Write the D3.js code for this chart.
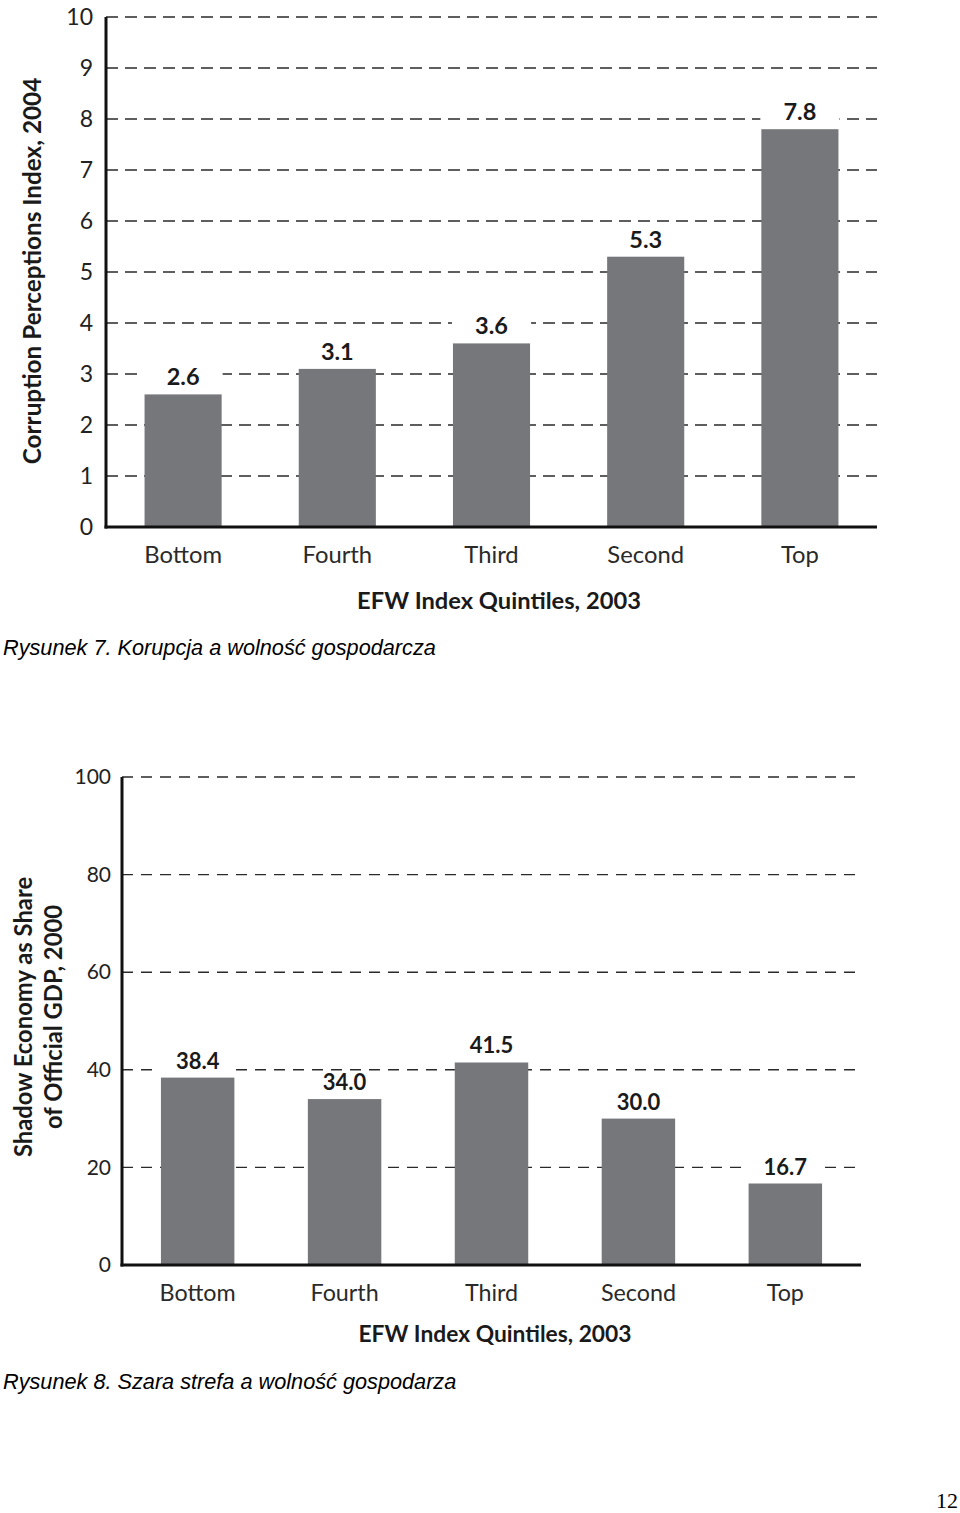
<!DOCTYPE html>
<html><head><meta charset="utf-8">
<script src="https://cdn.jsdelivr.net/npm/d3@7"></script>
<style>
body{margin:0;background:#fff;}
svg{display:block;}
</style></head>
<body>
<svg id="c" width="960" height="1513"></svg>
<script>
const categories = ["Bottom","Fourth","Third","Second","Top"];
const corruptionValues = [2.6, 3.1, 3.6, 5.3, 7.8];
const corruptionLabels = ["2.6","3.1","3.6","5.3","7.8"];
const corruptionTicks = [0,1,2,3,4,5,6,7,8,9,10];
const shadowValues = [38.4, 34.0, 41.5, 30.0, 16.7];
const shadowLabels = ["38.4","34.0","41.5","30.0","16.7"];
const shadowTicks = [0,20,40,60,80,100];
const xTitle = "EFW Index Quintiles, 2003";
const yTitle1 = ["Corruption Perceptions Index, 2004"];
const yTitle2 = ["Shadow Economy as Share","of Official GDP, 2000"];
const caption1 = "Rysunek 7. Korupcja a wolność gospodarcza";
const caption2 = "Rysunek 8. Szara strefa a wolność gospodarza";
const pageNum = "12";

const svg = d3.select("#c");
const FONT = "Lato, 'Open Sans', sans-serif";
const BAR = "#76777b";

function chart(cfg){
  const g = svg.append("g");
  const x = d3.scaleBand().domain(categories).range([cfg.x0, cfg.x1])
    .paddingInner(0.5).paddingOuter(cfg.po);
  const y = d3.scaleLinear().domain([0, cfg.max]).range([cfg.y0, cfg.yTop]);

  // dashed gridlines
  g.append("g").selectAll("line").data(cfg.ticks.filter(t=>t>0)).join("line")
    .attr("x1", cfg.x0).attr("x2", cfg.x1)
    .attr("y1", d=>y(d)).attr("y2", d=>y(d))
    .attr("stroke", "#2a2a2a").attr("stroke-width", 1.4)
    .attr("stroke-dasharray", cfg.dash);

  // y axis tick labels
  const ya = d3.axisLeft(y).tickValues(cfg.ticks).tickSize(0).tickPadding(cfg.tickPad).tickFormat(d3.format("d"));
  const yg = g.append("g").attr("transform", `translate(${cfg.x0},0)`).call(ya);
  yg.select(".domain").remove();
  yg.selectAll("text").attr("font-family", FONT).attr("font-size", cfg.tickFs).attr("fill","#222");

  // white knockouts behind value labels
  g.append("g").selectAll("rect").data(cfg.values).join("rect")
    .attr("x", (d,i)=>x(categories[i])-1).attr("width", x.bandwidth()+2)
    .attr("y", d=>y(d)-cfg.labelGap-18).attr("height", cfg.labelGap+18)
    .attr("fill","#fff");

  // bars
  g.append("g").selectAll("rect").data(cfg.values).join("rect")
    .attr("x", (d,i)=>x(categories[i])).attr("width", x.bandwidth())
    .attr("y", d=>y(d)).attr("height", d=>y(0)-y(d))
    .attr("fill", BAR);

  // value labels
  g.append("g").selectAll("text").data(cfg.values).join("text")
    .attr("x", (d,i)=>x(categories[i])+x.bandwidth()/2)
    .attr("y", d=>y(d)-cfg.labelGap)
    .attr("text-anchor","middle").attr("font-family",FONT).attr("font-weight",700)
    .attr("font-size", cfg.valFs).attr("fill","#1a1a1a")
    .text((d,i)=>cfg.labels[i]);

  // axes lines
  g.append("line").attr("x1",cfg.x0).attr("x2",cfg.x0).attr("y1",cfg.yTop).attr("y2",cfg.y0+1.5)
    .attr("stroke","#111").attr("stroke-width",3);
  g.append("line").attr("x1",cfg.x0-1.5).attr("x2",cfg.x1).attr("y1",cfg.y0).attr("y2",cfg.y0)
    .attr("stroke","#111").attr("stroke-width",3);

  // category labels
  const xa = d3.axisBottom(x).tickSize(0).tickPadding(cfg.catPad);
  const xg = g.append("g").attr("transform",`translate(0,${cfg.y0})`).call(xa);
  xg.select(".domain").remove();
  xg.selectAll("text").attr("font-family",FONT).attr("font-size",cfg.catFs).attr("fill","#2a2a2a");

  // x title
  g.append("text").attr("x", cfg.xtX).attr("y", cfg.xtY).attr("text-anchor","middle")
    .attr("font-family",FONT).attr("font-weight",700).attr("font-size",cfg.xtFs).attr("fill","#1a1a1a")
    .text(xTitle);

  // y title
  const yt = g.append("text").attr("transform",`translate(${cfg.ytX},${cfg.ytY}) rotate(-90)`)
    .attr("text-anchor","middle").attr("font-family",FONT).attr("font-weight",700)
    .attr("font-size",cfg.ytFs).attr("fill","#1a1a1a");
  cfg.yTitle.forEach((t,i)=>{
    yt.append("tspan").attr("x",0).attr("dy", i===0?0:cfg.ytLh).text(t);
  });

  // caption
  svg.append("text").attr("x",3).attr("y",cfg.capY)
    .attr("font-family","'Liberation Sans', Arial, sans-serif").attr("font-style","italic")
    .attr("font-size",21.7).attr("fill","#000").text(cfg.caption);
}

chart({x0:106, x1:877, po:0.25, y0:527, yTop:17, max:10, ticks:corruptionTicks,
  values:corruptionValues, labels:corruptionLabels, dash:"12,7", tickPad:13, tickFs:23,
  labelGap:9, valFs:23.5, catPad:19, catFs:23.8, xtX:499, xtY:609, xtFs:23.7,
  ytX:41, ytY:271, ytFs:24.3, yTitle:yTitle1, ytLh:0, caption:caption1, capY:655});

chart({x0:122, x1:861, po:0.265, y0:1265, yTop:777, max:100, ticks:shadowTicks,
  values:shadowValues, labels:shadowLabels, dash:"11,8", tickPad:11, tickFs:21,
  labelGap:9, valFs:22, catPad:19, catFs:23.3, xtX:495, xtY:1342, xtFs:22.8,
  ytX:32, ytY:1017, ytFs:23.8, yTitle:yTitle2, ytLh:30, caption:caption2, capY:1389});

svg.append("text").attr("x",958).attr("y",1508).attr("text-anchor","end")
  .attr("font-family","'Liberation Serif', 'Times New Roman', serif").attr("font-size",22)
  .attr("fill","#000").text(pageNum);
</script>
</body></html>
